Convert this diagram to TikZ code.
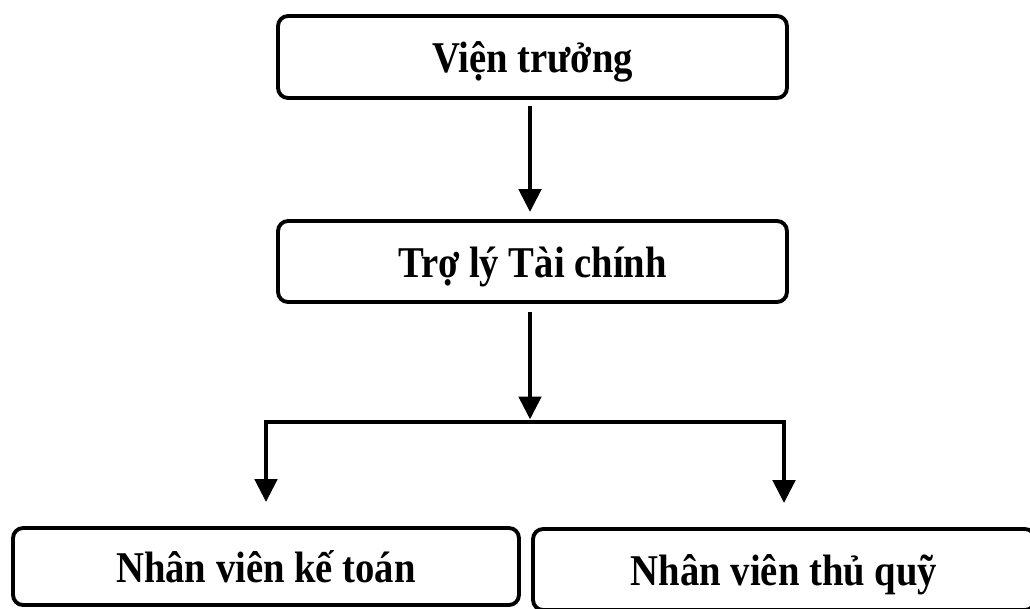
\documentclass[tikz,border=0pt]{standalone}
\usepackage{fontspec}
\setmainfont{Liberation Serif}[FakeStretch=0.88]
\usetikzlibrary{arrows.meta}

\begin{document}
\begin{tikzpicture}[x=0.02cm, y=-0.02cm,
    box/.style={draw, line width=2.2pt, rounded corners=0.2cm, inner sep=0pt,
      text height=0.64cm, text depth=0cm,
      font=\fontsize{25pt}{29pt}\selectfont\bfseries},
    link/.style={line width=2.8pt, -{Triangle[length=0.46cm, width=0.44cm]}}]
    \clip (0, 0) rectangle (1030, 608);
    \useasboundingbox (0, 0) rectangle (1030, 608);

    \node[box, minimum width=10.18cm, minimum height=1.64cm] (head) at (532.5, 57) {Viện trưởng};
    \node[box, minimum width=10.18cm, minimum height=1.62cm] (assist) at (532.5, 261.5) {Trợ lý Tài chính};
    \node[box, minimum width=10.12cm, minimum height=1.54cm] (acct) at (266, 566.5) {Nhân viên kế toán};
    \node[box, minimum width=10.04cm, minimum height=1.62cm] (cash) at (784, 569.5) {Nhân viên thủ quỹ};

    \coordinate (split) at (530, 422);

    \draw[link, shorten <=0.12cm, shorten >=0.14cm] (head.south -| split) -- (assist.north -| split);
    \draw[link, shorten <=0.16cm, shorten >=0.05cm] (assist.south -| split) -- (split);
    \draw[link, line join=miter, shorten >=0.48cm] (split) -| (acct.north);
    \draw[link, line join=miter, shorten >=0.48cm] (split) -| (cash.north);
  \end{tikzpicture}
\end{document}
